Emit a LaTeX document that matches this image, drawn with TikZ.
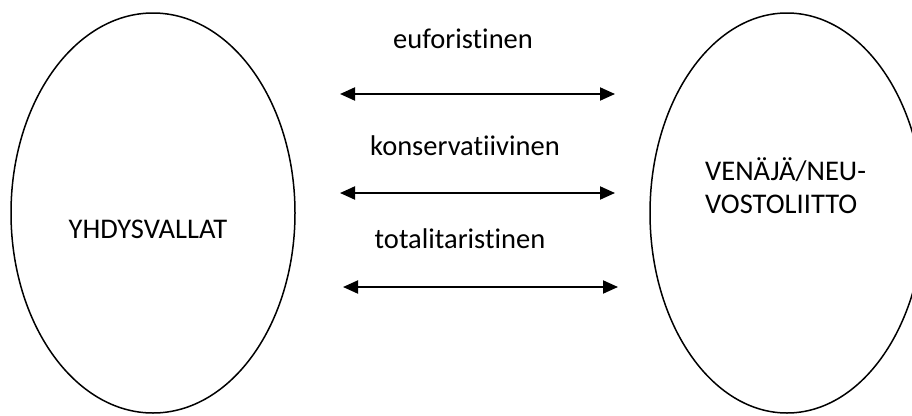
\documentclass[tikz,border=0pt]{standalone}
\usepackage{fontspec}
\setmainfont[RawFeature={-liga}]{Carlito}
\usetikzlibrary{arrows.meta,shapes.geometric}
\begin{document}
\begin{tikzpicture}[x=1pt,y=-1pt,
  blob/.style={draw,ellipse,line width=1.5pt,inner sep=0pt},
  lbl/.style={font=\fontsize{28.5}{33}\selectfont,inner sep=0pt,anchor=base},
  link/.style={line width=2pt,{Triangle[length=15pt,width=13pt]}-{Triangle[length=15pt,width=13pt]}}]
\useasboundingbox (0,0) rectangle (912,415);
\begin{scope}
\clip (0,0) rectangle (912,415);
\node[blob,minimum width=284pt,minimum height=400pt] (us) at (153,213) {};
\node[blob,minimum width=274pt,minimum height=400pt] (ru) at (787,213) {};
\end{scope}
\node[lbl] (ust) at (148,238) {YHDYSVALLAT};
\node[lbl,anchor=base west] (rut1) at (705,180) {VENÄJÄ/NEU-};
\node[lbl,anchor=base west] (rut2) at (705,213) {VOSTOLIITTO};
\node[lbl] (l1) at (463,48) {euforistinen};
\node[lbl] (l2) at (465,155) {konservatiivinen};
\node[lbl] (l3) at (460,248) {totalitaristinen};
\coordinate (a1) at (340,94); \coordinate (b1) at (615,94);
\coordinate (a2) at (340,193); \coordinate (b2) at (615,193);
\coordinate (a3) at (343,287); \coordinate (b3) at (618,287);
\draw[link] (a1) -- (b1);
\draw[link] (a2) -- (b2);
\draw[link] (a3) -- (b3);
\end{tikzpicture}
\end{document}
